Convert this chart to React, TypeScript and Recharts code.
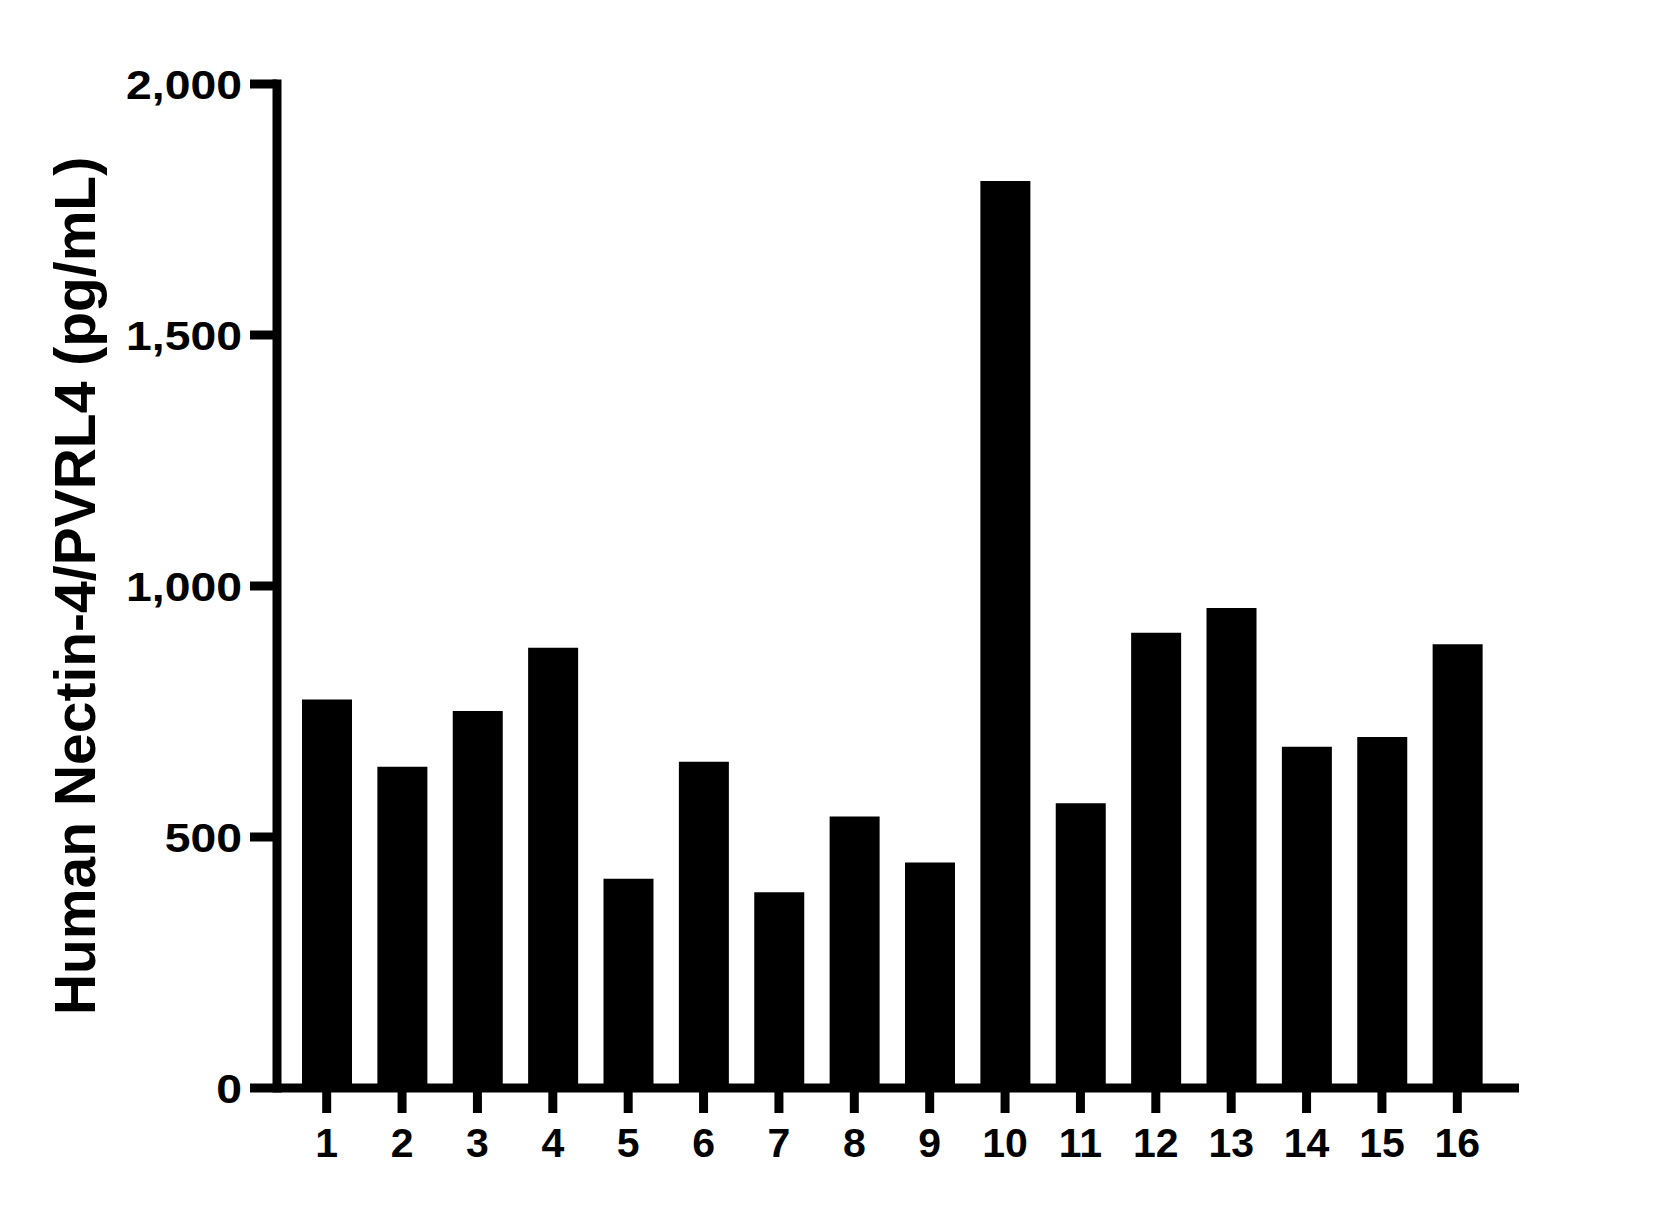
import { Bar, BarChart, XAxis, YAxis } from "recharts"

const samples = ["1", "2", "3", "4", "5", "6", "7", "8", "9", "10", "11", "12", "13", "14", "15", "16"]
const nectin4 = [774, 640, 751, 877, 417, 650, 390, 541, 449, 1807, 567, 907, 956, 680, 699, 884]
const yTicks = [0, 500, 1000, 1500, 2000]

const data = samples.map((name, i) => ({ name, value: nectin4[i] }))

const font = "'Liberation Sans', Arial, Helvetica, sans-serif"

// y tick labels in the source are a bit wider than plain Arial bold
function YTick(props: any) {
  const { x, y, payload } = props
  return (
    <g transform={`translate(${x},${y})`}>
      <text
        x={0}
        y={0}
        dy="0.355em"
        textAnchor="end"
        transform="scale(1.13,1)"
        fill="#000"
        fontSize={41}
        fontWeight={700}
        fontFamily={font}
      >
        {Number(payload.value).toLocaleString("en-US")}
      </text>
    </g>
  )
}

export default function App() {
  return (
    <div style={{ position: "absolute", left: 0, top: 0, background: "#fff" }}>
      <BarChart
        width={1654}
        height={1208}
        data={data}
        margin={{ top: 84, right: 135, bottom: 0, left: 0 }}
      >
        <XAxis
          dataKey="name"
          height={120}
          padding={{ left: 12, right: 24 }}
          axisLine={{ stroke: "#000", strokeWidth: 9 }}
          tickLine={{ stroke: "#000", strokeWidth: 9 }}
          tickSize={25}
          tickMargin={15}
          tick={{ fill: "#000", fontSize: 41, fontWeight: 700, fontFamily: font }}
        />
        <YAxis
          width={277}
          domain={[0, 2000]}
          ticks={yTicks}
          interval={0}
          allowDataOverflow
          axisLine={{ stroke: "#000", strokeWidth: 9, strokeLinecap: "square" }}
          tickLine={{ stroke: "#000", strokeWidth: 9 }}
          tickSize={27}
          tickMargin={8}
          tick={<YTick />}
          label={{
            value: "Human Nectin-4/PVRL4 (pg/mL)",
            angle: -90,
            position: "insideLeft",
            offset: 75,
            style: { textAnchor: "middle", fill: "#000", fontSize: 57, fontWeight: 700, fontFamily: font },
          }}
        />
        <Bar dataKey="value" fill="#000" barSize={50} isAnimationActive={false} />
      </BarChart>
    </div>
  )
}
